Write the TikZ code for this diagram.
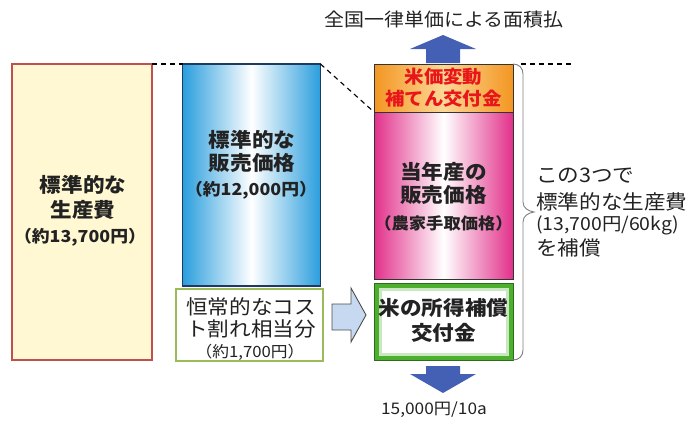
\documentclass[tikz,border=0pt]{standalone}
\usepackage{fontspec}
\setmainfont[FakeStretch=1.08]{Noto Sans CJK JP}
\definecolor{ybfill}{HTML}{FFF8D2}
\definecolor{ybdraw}{HTML}{C0504D}
\definecolor{bluec}{HTML}{2A9EDD}
\definecolor{navy}{HTML}{1F3A5F}
\definecolor{pinkc}{HTML}{E2308A}
\definecolor{orangec}{HTML}{F39622}
\definecolor{orangem}{HTML}{FCD896}
\definecolor{greenc}{HTML}{4CB02E}
\definecolor{greend}{HTML}{2E6B1C}
\definecolor{lgreen}{HTML}{9BBB59}
\definecolor{arrowblue}{HTML}{4460B4}
\definecolor{lightarrow}{HTML}{C6D9F1}
\definecolor{redtext}{HTML}{E8151B}
\definecolor{txt}{HTML}{222222}
\definecolor{bracec}{HTML}{7F7F7F}
\tikzset{
  boxbase/.style={rectangle, inner sep=0pt, outer sep=0pt},
  lbl/.style={inner sep=0pt, text=txt, anchor=center},
  big/.style={font=\fontsize{20}{23}\selectfont},
  bigb/.style={font=\fontsize{20}{23}\selectfont\bfseries},
  smallb/.style={font=\fontsize{16.5}{18}\selectfont\bfseries},
  small/.style={font=\fontsize{15.5}{17}\selectfont},
  dashline/.style={dashed, dash pattern=on 5pt off 4pt, line width=1.1pt, black},
  fatarrow/.style={fill=arrowblue, draw=none},
}
\begin{document}
\begin{tikzpicture}[x=1pt,y=-1pt]
\useasboundingbox (0,0) rectangle (691,423);
% boxes
\node[boxbase, fill=ybfill, draw=ybdraw, line width=1.8pt, minimum width=140pt, minimum height=296pt] (yb) at (82,212) {};
\node[boxbase, left color=bluec, right color=bluec, middle color=white, draw=navy, line width=1.2pt, minimum width=138pt, minimum height=222pt] (bb) at (251.5,175) {};
\node[boxbase, fill=white, draw=lgreen, line width=2pt, minimum width=147pt, minimum height=72pt] (gb) at (249.5,325) {};
\node[boxbase, left color=orangec, right color=orangec, middle color=orangem, draw=black!80, line width=1pt, minimum width=139pt, minimum height=48pt] (ob) at (443.5,88) {};
\node[boxbase, left color=pinkc, right color=pinkc, middle color=white, draw=black!80, line width=1pt, minimum width=139pt, minimum height=167pt] (pb) at (443.5,195.5) {};
\node[boxbase, fill=greenc, draw=greend, line width=1pt, minimum width=139pt, minimum height=77pt] (sb) at (443.5,321.5) {};
\node[boxbase, fill=white, draw=greenc!30, line width=3pt, minimum width=127pt, minimum height=65pt] (sbin) at (443.5,321.5) {};
% dashed guides
\draw[dashline] (yb.north east) -- (bb.north west);
\draw[dashline] (bb.north east) -- (pb.north west);
\coordinate (dashend) at (572,64);
\coordinate (dashstart) at (521,64);
\draw[dashline] (dashstart) -- (dashend);
% brace
\draw[bracec, line width=0.9pt] (ob.north east) .. controls (519,64) and (523,68) .. (523,74) -- (523,202)
  .. controls (523,208) and (528,211) .. (534,212) .. controls (528,213) and (523,216) .. (523,222)
  -- (523,350) .. controls (523,356) and (519,360) .. (sb.south east);
% up and down arrows
\draw[fatarrow] (426,63) -- (426,49) -- (410,49) -- (443,35) -- (476,49) -- (460,49) -- (460,63) -- cycle;
\draw[fatarrow] (426,366) -- (426,374) -- (410,374) -- (443,393) -- (476,374) -- (460,374) -- (460,366) -- cycle;
% light arrow
\draw[fill=lightarrow, draw=black!70, line width=0.9pt] (332,304) -- (351,304) -- (351,288) -- (366,315) -- (351,342) -- (351,330) -- (332,330) -- cycle;
% texts
\node[lbl, font=\fontsize{18.5}{20}\selectfont] (title) at (444,19) {全国一律単価による面積払};
\node[lbl, bigb] (y1) at (83,185) {標準的な};
\node[lbl, bigb] (y2) at (83,210) {生産費};
\node[lbl, smallb] (y3) at (80,237) {（約13,700円）};
\node[lbl, bigb] (b1) at (252,140) {標準的な};
\node[lbl, bigb] (b2) at (252,163) {販売価格};
\node[lbl, smallb] (b3) at (251,190) {（約12,000円）};
\node[lbl, big] (g1) at (251,307) {恒常的なコス};
\node[lbl, big] (g2) at (251,329) {ト割れ相当分};
\node[lbl, small] (g3) at (250,352) {（約1,700円）};
\node[lbl, font=\fontsize{18}{20}\selectfont\bfseries, text=redtext] (o1) at (443.5,77) {米価変動};
\node[lbl, font=\fontsize{18}{20}\selectfont\bfseries, text=redtext] (o2) at (443.5,99) {補てん交付金};
\node[lbl, bigb] (p1) at (443.5,172) {当年産の};
\node[lbl, bigb] (p2) at (443.5,195) {販売価格};
\node[lbl, font=\fontsize{16}{18}\selectfont\bfseries] (p3) at (443.5,223) {（農家手取価格）};
\node[lbl, bigb] (s1) at (443.5,308) {米の所得補償};
\node[lbl, bigb] (s2) at (443.5,333) {交付金};
\node[lbl, big, anchor=west] (r1) at (536,176) {この3つで};
\node[lbl, big, anchor=west] (r2) at (536,202) {標準的な生産費};
\node[lbl, font=\fontsize{18}{20}\selectfont, anchor=west] (r3) at (536,225) {(13,700円/60kg)};
\node[lbl, big, anchor=west] (r4) at (536,248) {を補償};
\node[lbl, font=\fontsize{16}{20}\selectfont] (bottom) at (434,410) {15,000円/10a};
\end{tikzpicture}
\end{document}
